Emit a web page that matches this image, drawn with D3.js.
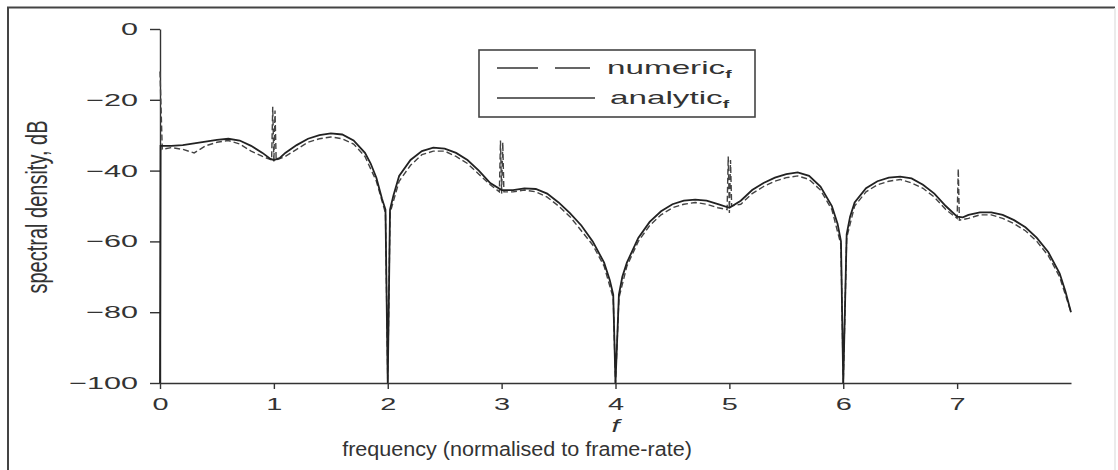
<!DOCTYPE html>
<html>
<head>
<meta charset="utf-8">
<script src="https://d3js.org/d3.v7.min.js"></script>
<style>
body { margin: 0; background: #fff; }
svg { display: block; font-family: "Liberation Sans", Arial, sans-serif; }
.axis path, .axis line { stroke: #333; stroke-width: 1.4; }
.axis text { fill: #333; font-size: 17px; font-family: "Liberation Sans", Arial, sans-serif; }
</style>
</head>
<body>
<div id="chart"></div>
<script>
// analytic spectrum (f, dB)
var freqA = [0, 0.005, 0.1, 0.2, 0.3, 0.4, 0.5, 0.6, 0.7, 0.8, 0.9, 0.97, 1.0, 1.05, 1.1, 1.2, 1.3, 1.4, 1.5, 1.6, 1.7, 1.8, 1.85, 1.9, 1.95, 1.98, 2.0,
  2.02, 2.05, 2.1, 2.2, 2.3, 2.4, 2.5, 2.6, 2.7, 2.8, 2.9, 3.0, 3.1, 3.2, 3.3, 3.4, 3.5, 3.6, 3.7, 3.8, 3.9, 3.95, 3.98, 4.0,
  4.03, 4.06, 4.1, 4.2, 4.3, 4.4, 4.5, 4.6, 4.7, 4.8, 4.9, 5.0, 5.1, 5.2, 5.3, 5.4, 5.5, 5.6, 5.7, 5.8, 5.9, 5.95, 5.98, 6.0,
  6.03, 6.06, 6.1, 6.2, 6.3, 6.4, 6.5, 6.6, 6.7, 6.8, 6.9, 7.0, 7.05, 7.1, 7.2, 7.3, 7.4, 7.5, 7.6, 7.7, 7.8, 7.9, 7.95, 8.0];
var specA = [-100, -33, -33, -32.8, -32.3, -31.8, -31.3, -31, -31.5, -33, -35, -36.7, -37, -36.5, -35, -32.8, -31, -30, -29.5, -29.8, -31.5, -35, -38, -42, -48, -51, -100,
  -51, -47, -41.5, -37, -34.5, -33.5, -33.8, -35, -37, -40, -43.5, -45.5, -45.5, -45, -45.2, -46.5, -49, -52, -55.5, -60, -66, -71, -75, -100,
  -75, -70, -66, -59, -54.5, -51.5, -49.5, -48.5, -48.2, -48.5, -49.5, -50.5, -48.5, -45.5, -43.5, -42, -41, -40.5, -41.5, -44.5, -50, -55, -60, -100,
  -58, -53, -49, -45, -43, -42, -41.7, -42.2, -44, -46.5, -50, -53, -53.2, -52.5, -51.8, -51.8, -52.5, -54, -56, -59, -63, -69, -74, -80];

// numeric spectrum (f, dB), with spurious lines at integer f
var freqN = [0, 0.02, 0.1, 0.2, 0.3, 0.4, 0.5, 0.6, 0.7, 0.8, 0.9, 0.98, 0.99, 1.0, 1.01, 1.02, 1.1, 1.2, 1.3, 1.4, 1.5, 1.6, 1.7, 1.8, 1.9, 1.98, 2.0,
  2.02, 2.1, 2.2, 2.3, 2.4, 2.5, 2.6, 2.7, 2.8, 2.9, 2.98, 2.99, 3.0, 3.01, 3.02, 3.1, 3.2, 3.3, 3.4, 3.5, 3.6, 3.7, 3.8, 3.9, 3.98, 4.0,
  4.03, 4.1, 4.2, 4.3, 4.4, 4.5, 4.6, 4.7, 4.8, 4.9, 4.98, 4.99, 5.0, 5.01, 5.02, 5.1, 5.2, 5.3, 5.4, 5.5, 5.6, 5.7, 5.8, 5.9, 5.98, 6.0,
  6.03, 6.1, 6.2, 6.3, 6.4, 6.5, 6.6, 6.7, 6.8, 6.9, 7.0, 7.01, 7.02, 7.1, 7.2, 7.3, 7.4, 7.5, 7.6, 7.7, 7.8, 7.9, 7.95, 8.0];
var specN = [-12, -34, -33.5, -34, -35, -33, -32, -31.5, -32.5, -34.5, -36, -37, -22, -37.5, -23, -37, -36, -34, -32, -31, -30.5, -31, -32.5, -36, -43, -52, -100,
  -52, -43, -38.5, -35.5, -34.5, -34.5, -36, -38, -41, -44, -46, -31.5, -46.5, -32, -46, -46, -45.5, -46, -47.5, -50, -53, -57, -61, -67, -76, -100,
  -76, -67, -60, -55.5, -52.5, -50.5, -49.5, -49, -49.5, -50.5, -51, -36, -52, -37, -50, -49.5, -46.5, -44.5, -43, -42, -41.5, -42.5, -45.5, -51, -61, -100,
  -59, -50, -46, -44, -43, -42.5, -43.5, -45, -47.5, -51, -53.5, -39.5, -54, -53.5, -52.5, -52.5, -53.5, -55, -57, -60, -64, -70, -75, -80];

var xTicks = [0, 1, 2, 3, 4, 5, 6, 7];
var yTicks = [0, -20, -40, -60, -80, -100];
var seriesNames = ["numeric", "analytic"];

var W = 1118, H = 470;
var svg = d3.select("#chart").append("svg")
            .attr("width", W)
            .attr("height", H);

// scanned page frame
svg.append("path")
   .attr("d", "M8,472V7.5H1115")
   .attr("fill", "none")
   .attr("stroke", "#444")
   .attr("stroke-width", 2);
svg.append("line")
   .attr("x1", 1115).attr("x2", 1115).attr("y1", 8).attr("y2", 470)
   .attr("stroke", "#e4e4e4")
   .attr("stroke-width", 1.5);

var x = d3.scaleLinear().domain([0, 8]).range([160, 1071]);
var y = d3.scaleLinear().domain([-100, 0]).range([383, 29]);

// the scan is stretched sideways, so text is widened to match
function widen(sel, k) {
  sel.attr("x", function() { return (+d3.select(this).attr("x") || 0) / k; })
     .attr("transform", "scale(" + k + ",1)");
}

var yAxisG = svg.append("g")
   .attr("class", "axis")
   .attr("transform", "translate(160,0)")
   .call(d3.axisLeft(y).tickValues(yTicks).tickSize(10).tickPadding(12).tickSizeOuter(0));
widen(yAxisG.selectAll("text"), 1.8);

var xAxisG = svg.append("g")
   .attr("class", "axis")
   .attr("transform", "translate(0,383)")
   .call(d3.axisBottom(x).tickValues(xTicks).tickSize(6).tickPadding(9).tickSizeOuter(0));
xAxisG.selectAll(".tick text").attr("transform", "scale(1.7,1)");

var line = d3.line()
             .x(function(d) { return x(d[0]); })
             .y(function(d) { return y(d[1]); });

var dataA = d3.zip(freqA, specA);
var dataN = d3.zip(freqN, specN);

svg.append("path")
   .datum(dataN)
   .attr("d", line)
   .attr("fill", "none")
   .attr("stroke", "#444")
   .attr("stroke-width", 1.4)
   .attr("stroke-dasharray", "6,3");

svg.append("path")
   .datum(dataA)
   .attr("d", line)
   .attr("fill", "none")
   .attr("stroke", "#222")
   .attr("stroke-width", 1.8);

// axis labels
svg.append("text")
   .attr("transform", "translate(" + x(4) + ",432) scale(1.6,1)")
   .attr("text-anchor", "middle")
   .style("font-size", "18px")
   .style("font-style", "italic")
   .style("fill", "#333")
   .text("f");

var xlab = svg.append("text")
   .attr("text-anchor", "middle")
   .style("font-size", "21px")
   .style("fill", "#333")
   .text("frequency (normalised to frame-rate)");
var kx = 350 / xlab.node().getComputedTextLength();
xlab.attr("transform", "translate(517,456) scale(" + kx + ",1)");

svg.append("text")
   .attr("transform", "translate(47,207) rotate(-90) scale(1,1.45)")
   .attr("text-anchor", "middle")
   .attr("textLength", 173)
   .attr("lengthAdjust", "spacingAndGlyphs")
   .style("font-size", "20px")
   .style("fill", "#333")
   .text("spectral density, dB");

// legend
var legend = svg.append("g");
legend.append("rect")
      .attr("x", 479).attr("y", 50)
      .attr("width", 276).attr("height", 67)
      .attr("fill", "#fff")
      .attr("stroke", "#444")
      .attr("stroke-width", 1.6);

var legY = [68, 98];
legend.selectAll("line.leg")
      .data(seriesNames)
      .enter()
      .append("line")
      .attr("class", "leg")
      .attr("x1", 497).attr("x2", function(d, i) { return i == 0 ? 590 : 595; })
      .attr("y1", function(d, i) { return legY[i]; })
      .attr("y2", function(d, i) { return legY[i]; })
      .attr("stroke", "#333")
      .attr("stroke-width", 1.4)
      .attr("stroke-dasharray", function(d, i) { return i == 0 ? "41,17" : null; });

var legText = legend.selectAll("text.leg")
      .data(seriesNames)
      .enter()
      .append("text")
      .attr("class", "leg")
      .attr("transform", function(d, i) { return "translate(" + (i == 0 ? 607 : 610) + "," + (legY[i] + 6) + ") scale(1.75,1)"; })
      .style("font-size", "19px")
      .style("fill", "#333");
legText.append("tspan").text(function(d) { return d; });
legText.append("tspan")
       .attr("dy", 4)
       .style("font-size", "11px")
       .style("font-weight", "bold")
       .text("f");
</script>
</body>
</html>
